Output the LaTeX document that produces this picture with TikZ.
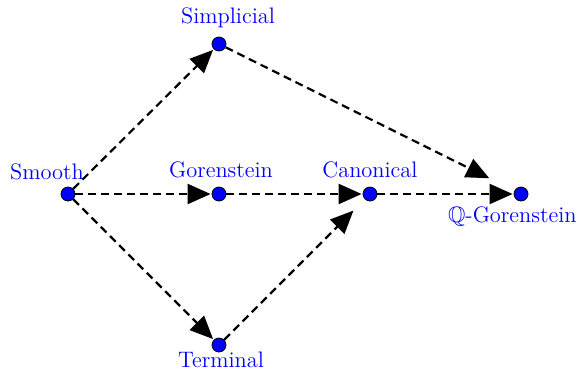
\documentclass[tikz,border=0pt]{standalone}
\usepackage{amssymb}
\usetikzlibrary{arrows.meta}
\begin{document}
\begin{tikzpicture}[x=0.5pt,y=-0.5pt,
  pt/.style={circle,draw=black,fill=blue,inner sep=0pt,minimum size=7pt,line width=0.4pt},
  lab/.style={text=blue,font=\fontsize{11.2}{13}\selectfont,inner sep=0pt},
  arr/.style={line width=1.1pt,dash pattern=on 4pt off 2.5pt,-{Triangle[length=11.5pt,width=10pt]},shorten >=0.5pt}]
\useasboundingbox (0,0) rectangle (579,371);
\node[pt] (sm) at (68,194) {};
\node[pt] (si) at (219,44) {};
\node[pt] (go) at (219,194) {};
\node[pt] (ca) at (370,194) {};
\node[pt] (qg) at (521,194) {};
\node[pt] (te) at (219,345) {};
\node[lab] (lsm) at (47,172) {Smooth};
\node[lab] (lsi) at (228,18) {Simplicial};
\node[lab] (lgo) at (221,170) {Gorenstein};
\node[lab] (lca) at (370,170) {Canonical};
\node[lab,anchor=east] (lqg) at (577,216) {$\mathbb{Q}$-Gorenstein};
\node[lab] (lte) at (221,360) {Terminal};
\draw[arr] (sm) -- (si);
\draw[arr] (sm) -- (go);
\draw[arr] (sm) -- (te);
\draw[arr] (go) -- (ca);
\draw[arr] (ca) -- (qg);
\draw[arr,shorten >=14pt] (si) -- (qg);
\draw[arr,shorten >=8pt] (te) -- (ca);
\end{tikzpicture}
\end{document}
